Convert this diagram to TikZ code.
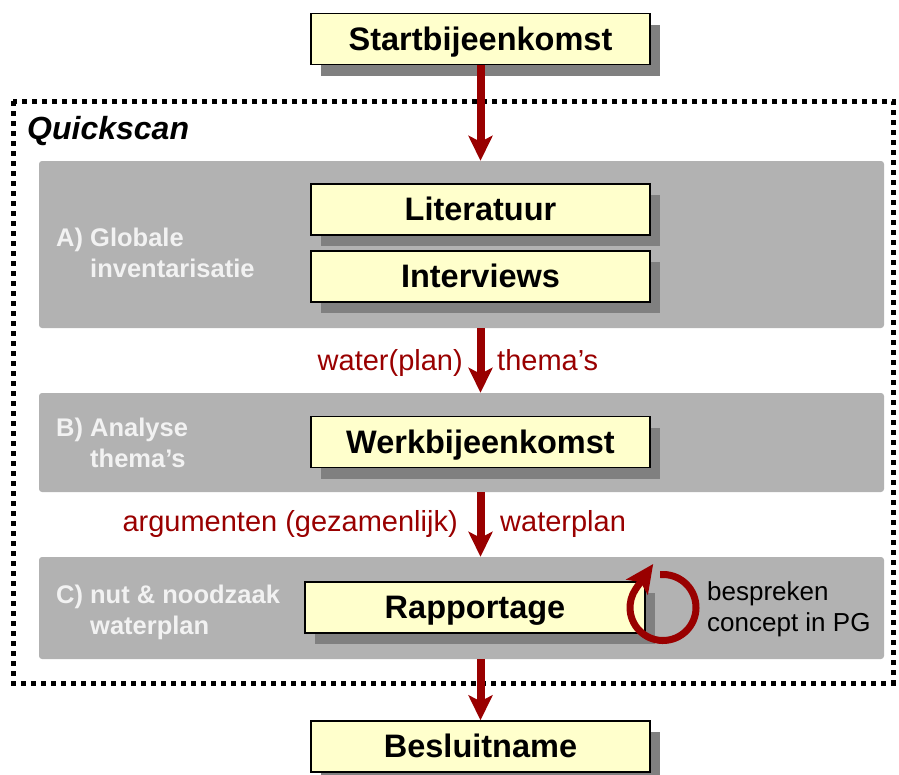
\documentclass[tikz,border=0pt]{standalone}
\usepackage{fontspec}
\setmainfont{Liberation Sans}
\usetikzlibrary{arrows.meta,shadows}
\definecolor{qsBoxFill}{RGB}{255,255,204}
\definecolor{qsPanelFill}{RGB}{178,178,178}
\definecolor{qsShadow}{RGB}{128,128,128}
\definecolor{qsRed}{RGB}{153,0,0}
\definecolor{qsPanelText}{RGB}{242,242,242}
\begin{document}
\begin{tikzpicture}
% Quickscan flow, one unit is one pixel of the sketch
\def\pxsz{1pt}
\providecommand{\qsFrameWidth}{5pt}
\providecommand{\qsArrowWidth}{8pt}
\providecommand{\qsBoxLineWidth}{1.4pt}
\begin{scope}[x=\pxsz, y=-\pxsz, line join=miter,
  stepbox/.style={draw=black, line width=\qsBoxLineWidth, fill=qsBoxFill,
    minimum width=339pt, minimum height=51pt, inner sep=0pt,
    text height=24pt, text depth=2pt,
    font=\fontsize{32.5}{39}\selectfont\bfseries,
    drop shadow={shadow xshift=10pt, shadow yshift=-11pt, opacity=1, fill=qsShadow}},
  panel/.style={fill=qsPanelFill, rounded corners=3pt, minimum width=845pt, inner sep=0pt},
  panellabel/.style={anchor=base west, align=left, inner sep=0pt, text=qsPanelText,
    font=\fontsize{25.5}{31}\selectfont\bfseries},
  flowlabel/.style={inner sep=0pt, text=qsRed, font=\fontsize{29}{35}\selectfont},
  flow/.style={draw=qsRed, line width=\qsArrowWidth,
    -{Stealth[length=25pt, width=24pt, inset=6pt]}}]
  \useasboundingbox (0,0) rectangle (899,774);
  % Dotted frame round the quickscan
  \draw[line width=\qsFrameWidth, dash pattern=on 5pt off 5pt] (13,101) rectangle (893,683);
  \node[anchor=base west, inner sep=0pt, font=\fontsize{32}{38}\selectfont\bfseries\itshape]
    (qs) at (27,139) {Quickscan};
  % Grey phase panels (label nodes sit on the baseline of their last line)
  \node[panel, minimum height=167pt] (panA) at (461.5,244.5) {};
  \node[panel, minimum height=99pt] (panB) at (461.5,442.5) {};
  \node[panel, minimum height=102pt] (panC) at (461.5,608) {};
  \node[panellabel] (labA) at (56,277) {A) Globale\\\hphantom{A) }inventarisatie};
  \node[panellabel] (labB) at (56,467) {B) Analyse\\\hphantom{B) }thema’s};
  \node[panellabel] (labC) at (56,634) {C) nut \& noodzaak\\\hphantom{C) }waterplan};
  % Steps
  \node[stepbox] (start) at (480.5,39) {Startbijeenkomst};
  \node[stepbox] (lit) at (480.5,209.5) {Literatuur};
  \node[stepbox] (int) at (480.5,276.5) {Interviews};
  \node[stepbox] (werk) at (480.5,442) {Werkbijeenkomst};
  \node[stepbox, minimum width=340pt] (rap) at (475,607.5) {Rapportage};
  \node[stepbox] (besl) at (480.5,746.5) {Besluitname};
  % Flow arrows and their labels
  \draw[flow] (start.south) -- (start.south |- panA.north);
  \draw[flow] (int.south |- panA.south) -- (int.south |- panB.north);
  \draw[flow] (werk.south |- panB.south) -- (werk.south |- panC.north);
  \draw[flow] (besl.north |- panC.south) -- (besl.north);
  \node[flowlabel, anchor=base east] (lblWater) at (463,370) {water(plan)};
  \node[flowlabel, anchor=base west] (lblThemas) at (497,370) {thema’s};
  \node[flowlabel, anchor=base east] (lblArg) at (458,531) {argumenten (gezamenlijk)};
  \node[flowlabel, anchor=base west] (lblPlan) at (500,531) {waterplan};
  % Feedback loop on the report
  \coordinate (loop) at (663,607.5);
  \draw[qsRed, line width=7pt, -{Stealth[length=28pt, width=26pt, inset=6pt]}]
    ([shift={(-95:33)}]loop) arc[start angle=-95, end angle=215, radius=33] -- ++(-55:30);
  \node[anchor=base west, align=left, inner sep=0pt, font=\fontsize{26}{31}\selectfont]
    (note) at (707,631) {bespreken\\concept in PG};
\end{scope}
\end{tikzpicture}
\end{document}
